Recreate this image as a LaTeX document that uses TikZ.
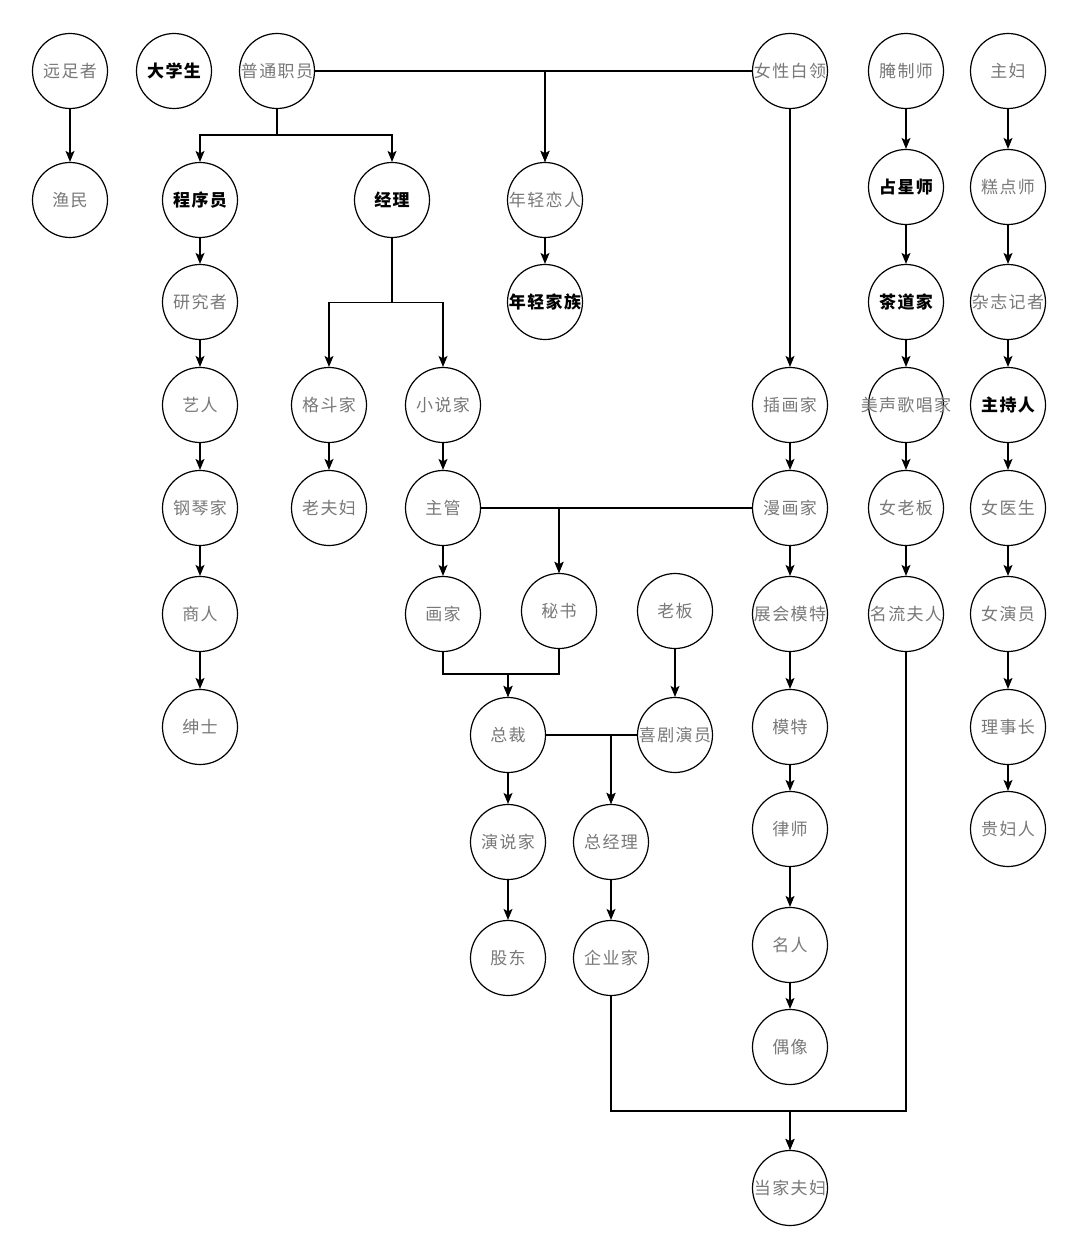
\documentclass[tikz,border=0pt]{standalone}
\usepackage{fontspec}
\newfontfamily\cjk[LetterSpace=8]{Noto Sans CJK SC}
\usetikzlibrary{arrows.meta}
\definecolor{labelgray}{RGB}{120,120,120}
\begin{document}
\begin{tikzpicture}[x=1pt,y=-1pt,
  role/.style={circle,draw,line width=1.2pt,minimum size=75pt,inner sep=0pt,
    font=\cjk\fontsize{17}{17}\selectfont,text=labelgray,
    execute at begin node={\hbox to 0pt\bgroup\hss},
    execute at end node={\hss\egroup}},
  key/.style={role,font=\cjk\bfseries\fontsize{17}{17}\selectfont,text=black},
  link/.style={line width=1.2pt,-{Stealth[length=11pt,width=9pt,inset=2.5pt]}},
  plain/.style={line width=1.2pt}]
\useasboundingbox (0,0) rectangle (1080,1260);
% row 1
\node[role] (yz) at (70,71) {远足者};
\node[key]  (dx) at (174,71) {大学生};
\node[role] (pt) at (277,71) {普通职员};
\node[role] (nb) at (790,71) {女性白领};
\node[role] (yzs) at (906,71) {腌制师};
\node[role] (zf) at (1008,71) {主妇};
% row 2
\node[role] (ym) at (70,200) {渔民};
\node[key]  (cx) at (200,200) {程序员};
\node[key]  (jl) at (392,200) {经理};
\node[role] (ll) at (545,200) {年轻恋人};
\node[key]  (zx) at (906,187) {占星师};
\node[role] (gds) at (1008,187) {糕点师};
% row 3
\node[role] (yj) at (200,302) {研究者};
\node[key]  (jz) at (545,302) {年轻家族};
\node[key]  (cd) at (906,302) {茶道家};
\node[role] (zz) at (1008,302) {杂志记者};
% row 4
\node[role] (yr) at (200,405) {艺人};
\node[role] (gd) at (329,405) {格斗家};
\node[role] (xs) at (443,405) {小说家};
\node[role] (ch) at (790,405) {插画家};
\node[role] (ms5) at (906,405) {美声歌唱家};
\node[key]  (zc6) at (1008,405) {主持人};
% row 5
\node[role] (gq) at (200,508) {钢琴家};
\node[role] (lf) at (329,508) {老夫妇};
\node[role] (zg) at (443,508) {主管};
\node[role] (mh) at (790,508) {漫画家};
\node[role] (nl) at (906,508) {女老板};
\node[role] (ny) at (1008,508) {女医生};
% row 6
\node[role] (sr) at (200,614) {商人};
\node[role] (hj) at (443,614) {画家};
\node[role] (ms) at (559,611) {秘书};
\node[role] (lb) at (675,611) {老板};
\node[role] (zh) at (790,614) {展会模特};
\node[role] (ml) at (906,614) {名流夫人};
\node[role] (nyy) at (1008,614) {女演员};
% row 7
\node[role] (ss) at (200,727) {绅士};
\node[role] (zc) at (508,735) {总裁};
\node[role] (xj) at (675,735) {喜剧演员};
\node[role] (mt) at (790,727) {模特};
\node[role] (ls) at (1008,727) {理事长};
% row 8
\node[role] (ysj) at (508,842) {演说家};
\node[role] (zjl) at (611,842) {总经理};
\node[role] (lsh) at (790,829) {律师};
\node[role] (gf) at (1008,829) {贵妇人};
% row 9
\node[role] (gdong) at (508,958) {股东};
\node[role] (qy) at (611,958) {企业家};
\node[role] (mr) at (790,945) {名人};
\node[role] (ox) at (790,1047) {偶像};
\node[role] (dj) at (790,1188) {当家夫妇};
% merge points
\coordinate (m1) at (508,674);
\coordinate (m2) at (790,1111);

% straight chains
\draw[link] (yz) -- (ym);
\draw[link] (cx) -- (yj);
\draw[link] (yj) -- (yr);
\draw[link] (yr) -- (gq);
\draw[link] (gq) -- (sr);
\draw[link] (sr) -- (ss);
\draw[link] (gd) -- (lf);
\draw[link] (xs) -- (zg);
\draw[link] (zg) -- (hj);
\draw[link] (ll) -- (jz);
\draw[link] (nb) -- (ch);
\draw[link] (ch) -- (mh);
\draw[link] (mh) -- (zh);
\draw[link] (zh) -- (mt);
\draw[link] (mt) -- (lsh);
\draw[link] (lsh) -- (mr);
\draw[link] (mr) -- (ox);
\draw[link] (yzs) -- (zx);
\draw[link] (zx) -- (cd);
\draw[link] (cd) -- (ms5);
\draw[link] (ms5) -- (nl);
\draw[link] (nl) -- (ml);
\draw[link] (zf) -- (gds);
\draw[link] (gds) -- (zz);
\draw[link] (zz) -- (zc6);
\draw[link] (zc6) -- (ny);
\draw[link] (ny) -- (nyy);
\draw[link] (nyy) -- (ls);
\draw[link] (ls) -- (gf);
\draw[link] (lb) -- (xj);
\draw[link] (zc) -- (ysj);
\draw[link] (ysj) -- (gdong);
\draw[link] (zjl) -- (qy);

% orthogonal routes
\draw[link] (pt.south) -- ++(0,26) -| (cx.north);
\draw[link] (pt.south) -- ++(0,26) -| (jl.north);
\draw[link] (pt.east) -| (ll.north);
\draw[link] (nb.west) -| (ll.north);
\draw[link] (jl.south) -- ++(0,64) -| (gd.north);
\draw[link] (jl.south) -- ++(0,64) -| (xs.north);
\draw[link] (zg.east) -| (ms.north);
\draw[link] (mh.west) -| (ms.north);
\draw[link] (hj.south) |- (m1) -- (zc.north);
\draw[link] (ms.south) |- (m1) -- (zc.north);
\draw[link] (zc.east) -| (zjl.north);
\draw[link] (xj.west) -| (zjl.north);
\draw[link] (qy.south) |- (m2) -- (dj.north);
\draw[link] (ml.south) |- (m2) -- (dj.north);
\end{tikzpicture}
\end{document}
